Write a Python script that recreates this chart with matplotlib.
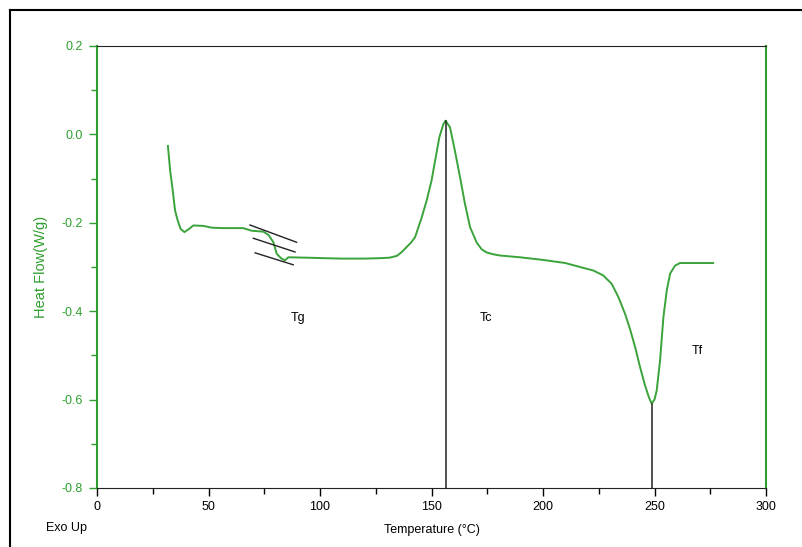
import matplotlib
matplotlib.use("Agg")
import matplotlib.pyplot as plt
from matplotlib.lines import Line2D
from matplotlib.ticker import MultipleLocator

plt.rcParams['font.family'] = ['Liberation Sans', 'DejaVu Sans']

# DSC curve
temp = [31.8, 32.8, 33.8, 35.0, 36.2, 37.5, 39.2, 41.0, 43.2, 47.7, 51.4, 56.5, 65.5,
        69.4, 74.6, 77.0, 79.1, 80.6, 82.5, 84.3, 85.8, 95, 101.5, 110, 120, 127,
        131, 134.4, 136.5, 138.8, 140.8, 142.6, 145.6, 147.8, 150, 151.6, 153.5,
        155.3, 156.3, 158.3, 160.5, 162.8, 165, 167.3, 170.3, 172.5, 174.7, 177.5,
        180.7, 189.7, 200, 210, 216.6, 222.6, 227, 230.8, 233.8, 236.8, 239, 241.3,
        243.5, 245.7, 247.5, 248.7, 250, 251, 252.5, 254, 255.5, 257, 259.2, 261.4,
        270, 276.3]
heat_flow = [-0.026, -0.082, -0.12, -0.172, -0.195, -0.214, -0.221, -0.215, -0.206,
             -0.207, -0.211, -0.212, -0.212, -0.218, -0.22, -0.228, -0.244, -0.27,
             -0.28, -0.285, -0.278, -0.279, -0.280, -0.281, -0.281, -0.280,
             -0.279, -0.275, -0.267, -0.255, -0.245, -0.233, -0.188, -0.15, -0.105,
             -0.06, -0.007, 0.023, 0.031, 0.016, -0.037, -0.097, -0.157, -0.21,
             -0.245, -0.26, -0.267, -0.271, -0.274, -0.278, -0.284, -0.291, -0.30,
             -0.308, -0.319, -0.338, -0.368, -0.406, -0.44, -0.481, -0.526, -0.567,
             -0.595, -0.609, -0.600, -0.579, -0.511, -0.413, -0.353, -0.315, -0.297,
             -0.291, -0.291, -0.291]

# Tg tangent construction lines
tg_lines = [
    ([68.6, 89.5], [-0.205, -0.244]),
    ([70.1, 88.8], [-0.235, -0.266]),
    ([70.9, 88.0], [-0.268, -0.295]),
]

# peak markers
tc_x, tc_y = 156.3, 0.031
tf_x, tf_y = 248.7, -0.609

labels = ["Tg", "Tc", "Tf"]
label_x = [90, 174.5, 269]
label_y = [-0.415, -0.415, -0.49]

green = '#2e9e2e'
curve_green = '#3aa33a'

fig = plt.figure(figsize=(8.02, 5.47), dpi=100)
ax = fig.add_axes([97 / 802, 1 - 488 / 547, (766 - 97) / 802, (488 - 46) / 547])

ax.plot(temp, heat_flow, color=curve_green, lw=1.4)
for xs, ys in tg_lines:
    ax.plot(xs, ys, color='#222222', lw=1.0)
ax.plot([tc_x, tc_x], [-0.8, tc_y], color='#222222', lw=1.1)
ax.plot([tf_x, tf_x], [-0.8, tf_y], color='#222222', lw=1.1)

for t, x, y in zip(labels, label_x, label_y):
    ax.text(x, y, t, fontsize=9, ha='center', va='center', color='black')

ax.set_xlim(0, 300)
ax.set_ylim(-0.8, 0.2)
ax.xaxis.set_major_locator(MultipleLocator(50))
ax.xaxis.set_minor_locator(MultipleLocator(25))
ax.yaxis.set_major_locator(MultipleLocator(0.2))
ax.yaxis.set_minor_locator(MultipleLocator(0.1))
ax.yaxis.set_major_formatter(plt.FuncFormatter(lambda v, p: f"{v:.1f}"))

ax.tick_params(axis='x', which='major', length=6, width=1, direction='out',
               labelsize=9, colors='black', pad=3)
ax.tick_params(axis='x', which='minor', length=4, width=1, direction='out')
ax.tick_params(axis='y', which='major', length=6, width=1, direction='out',
               labelsize=9, colors=green, pad=4)
ax.tick_params(axis='y', which='minor', length=4, width=1, direction='out', colors=green)

ax.spines['left'].set_color(green)
ax.spines['right'].set_color(green)
ax.spines['left'].set_linewidth(1.5)
ax.spines['right'].set_linewidth(1.5)
ax.spines['top'].set_color('#222222')
ax.spines['bottom'].set_color('#222222')

ax.set_xlabel("Temperature (°C)", fontsize=9, labelpad=8)
ax.set_ylabel("Heat Flow(W/g)", fontsize=10.5, color=green, labelpad=10)

fig.text(67 / 802, 1 - 528 / 547, "Exo Up", fontsize=9, ha='center', va='center')

# outer frame (top and left edges visible)
fig.add_artist(Line2D([10 / 802, 1], [1 - 10 / 547, 1 - 10 / 547],
                      transform=fig.transFigure, color='black', lw=1.5))
fig.add_artist(Line2D([10 / 802, 10 / 802], [0, 1 - 10 / 547],
                      transform=fig.transFigure, color='black', lw=1.5))

fig.savefig("out.png", dpi=100)
